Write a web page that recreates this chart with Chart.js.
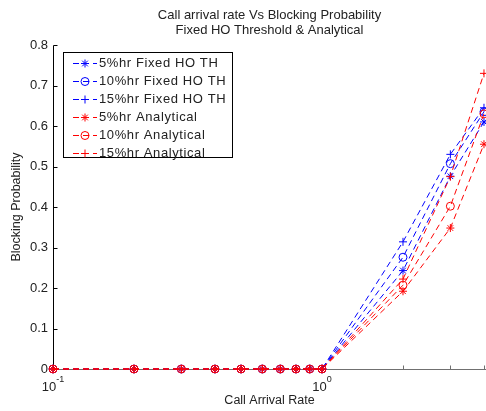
<!DOCTYPE html>
<html>
<head>
<meta charset="utf-8">
<script src="https://cdn.jsdelivr.net/npm/chart.js@4.4.1/dist/chart.umd.min.js"></script>
<style>
    html, body { margin: 0; padding: 0; background: #fff; }
</style>
</head>
<body>
<canvas id="blockingChart" width="486" height="411"></canvas>
<script>
// Call arrival rates on the x axis (log scale)
const arrivalRates = [0.1, 0.2, 0.3, 0.4, 0.5, 0.6, 0.7, 0.8, 0.9, 1, 2, 3, 4];

// Blocking probability, fixed HO threshold (simulation)
const fixed5 = [0, 0, 0, 0, 0, 0, 0, 0, 0, 0, 0.243, 0.476, 0.61];
const fixed10 = [0, 0, 0, 0, 0, 0, 0, 0, 0, 0, 0.276, 0.507, 0.635];
const fixed15 = [0, 0, 0, 0, 0, 0, 0, 0, 0, 0, 0.314, 0.53, 0.645];

// Blocking probability, analytical
const analytical5 = [0, 0, 0, 0, 0, 0, 0, 0, 0, 0, 0.192, 0.348, 0.555];
const analytical10 = [0, 0, 0, 0, 0, 0, 0, 0, 0, 0, 0.207, 0.402, 0.63];
const analytical15 = [0, 0, 0, 0, 0, 0, 0, 0, 0, 0, 0.222, 0.475, 0.73];

const seriesLabels = ['5%hr Fixed HO TH', '10%hr Fixed HO TH', '15%hr Fixed HO TH',
    '5%hr Analytical', '10%hr Analytical', '15%hr Analytical'];

// Axis ticks
const yTickValues = [0, 0.1, 0.2, 0.3, 0.4, 0.5, 0.6, 0.7, 0.8];
const xTickValues = [0.1, 1];
const xTickExponents = ['-1', '0'];
const xMinorTicks = [0.2, 0.3, 0.4, 0.5, 0.6, 0.7, 0.8, 0.9, 2, 3, 4];

const fontFamily = "'Liberation Sans', Arial, sans-serif";
const blue = '#0000ff';
const red = '#ff0000';

function makeSeries(label, values, color, marker, order) {
    return {
        label: label,
        data: arrivalRates.map((r, i) => ({ x: r, y: values[i] })),
        borderColor: color,
        backgroundColor: 'rgba(0,0,0,0)',
        borderWidth: 1,
        borderDash: [6, 4],
        pointStyle: marker,
        pointRadius: 4,
        pointBorderWidth: 1,
        pointBorderColor: color,
        pointBackgroundColor: 'rgba(0,0,0,0)',
        tension: 0,
        clip: false,
        order: order
    };
}

// Draw axes, ticks, labels in the old MATLAB figure style
const matlabAxes = {
    id: 'matlabAxes',
    beforeDatasetsDraw(chart) {
        const { ctx, chartArea: a, scales: { x, y } } = chart;
        const left = Math.round(a.left) + 0.5;
        const bottom = Math.round(a.bottom) + 0.5;
        ctx.save();
        ctx.lineWidth = 1;

        // x axis (grey) with inward minor ticks
        ctx.strokeStyle = '#707070';
        ctx.beginPath();
        ctx.moveTo(left, bottom);
        ctx.lineTo(a.right, bottom);
        xMinorTicks.concat(xTickValues).forEach(v => {
            const px = Math.round(x.getPixelForValue(v)) + 0.5;
            ctx.moveTo(px, bottom);
            ctx.lineTo(px, bottom - 4);
        });
        ctx.stroke();

        // y axis (black) with inward ticks
        ctx.strokeStyle = '#000';
        ctx.beginPath();
        ctx.moveTo(left, Math.round(a.top) + 0.5);
        ctx.lineTo(left, bottom);
        yTickValues.forEach(v => {
            const py = Math.round(y.getPixelForValue(v)) + 0.5;
            ctx.moveTo(left, py);
            ctx.lineTo(left + 4, py);
        });
        ctx.stroke();
        ctx.restore();
    },
    afterDraw(chart) {
        const { ctx, chartArea: a, scales: { x, y } } = chart;
        const cx = (a.left + a.right) / 2;
        ctx.save();
        ctx.fillStyle = '#222';
        ctx.textBaseline = 'middle';

        // y tick labels
        ctx.font = '13px ' + fontFamily;
        ctx.textAlign = 'right';
        yTickValues.forEach(v => {
            ctx.fillText(v === 0 ? '0' : v.toFixed(1), a.left - 5, y.getPixelForValue(v));
        });

        // x tick labels: 10 with a raised exponent
        xTickValues.forEach((v, i) => {
            const px = x.getPixelForValue(v);
            ctx.font = '13px ' + fontFamily;
            const baseW = ctx.measureText('10').width;
            ctx.font = '9px ' + fontFamily;
            const expW = ctx.measureText(xTickExponents[i]).width;
            const start = px - (baseW + expW) / 2;
            ctx.textAlign = 'left';
            ctx.font = '13px ' + fontFamily;
            ctx.fillText('10', start, 387);
            ctx.font = '9px ' + fontFamily;
            ctx.fillText(xTickExponents[i], start + baseW, 380);
        });

        // axis titles
        ctx.textAlign = 'center';
        ctx.font = '12.5px ' + fontFamily;
        ctx.fillText('Call Arrival Rate', cx, 401);
        ctx.save();
        ctx.translate(17, (a.top + a.bottom) / 2);
        ctx.rotate(-Math.PI / 2);
        ctx.fillText('Blocking Probability', 0, 0);
        ctx.restore();

        // two-line title
        ctx.font = '13px ' + fontFamily;
        ctx.fillText('Call arrival rate Vs Blocking Probability', cx, 15);
        ctx.fillText('Fixed HO Threshold & Analytical', cx, 30.5);

        // legend box
        const boxX = 63.5, boxY = 52.5, boxW = 169, boxH = 105;
        ctx.fillStyle = '#fff';
        ctx.fillRect(boxX, boxY, boxW, boxH);
        ctx.strokeStyle = '#000';
        ctx.lineWidth = 1;
        ctx.strokeRect(boxX, boxY, boxW, boxH);

        chart.data.datasets.forEach((ds, i) => {
            const rowY = 63 + i * 18;
            ctx.strokeStyle = ds.borderColor;
            ctx.lineWidth = 1;
            ctx.setLineDash([6, 4]);
            ctx.beginPath();
            ctx.moveTo(73, rowY + 0.5);
            ctx.lineTo(97, rowY + 0.5);
            ctx.stroke();
            ctx.setLineDash([]);
            ctx.fillStyle = 'rgba(0,0,0,0)';
            Chart.helpers.drawPoint(ctx, {
                pointStyle: ds.pointStyle, radius: 4, borderWidth: 1, rotation: 0
            }, 85, rowY + 0.5);

            ctx.fillStyle = '#222';
            ctx.font = '13px ' + fontFamily;
            ctx.letterSpacing = '0.6px';
            ctx.textAlign = 'left';
            ctx.fillText(ds.label, 99, rowY + 0.5);
            ctx.letterSpacing = '0px';
        });
        ctx.restore();
    }
};

const ctx = document.getElementById('blockingChart').getContext('2d');
const blockingChart = new Chart(ctx, {
    type: 'line',
    data: {
        datasets: [
            makeSeries(seriesLabels[0], fixed5, blue, 'star', 2),
            makeSeries(seriesLabels[1], fixed10, blue, 'circle', 2),
            makeSeries(seriesLabels[2], fixed15, blue, 'cross', 2),
            makeSeries(seriesLabels[3], analytical5, red, 'star', 1),
            makeSeries(seriesLabels[4], analytical10, red, 'circle', 1),
            makeSeries(seriesLabels[5], analytical15, red, 'cross', 1)
        ]
    },
    options: {
        responsive: false,
        animation: false,
        devicePixelRatio: 1,
        layout: {
            autoPadding: false,
            padding: { left: 0, top: 45, right: 0, bottom: 0 }
        },
        scales: {
            x: {
                type: 'logarithmic',
                min: 0.1,
                max: 4.07,
                grid: { display: false },
                border: { display: false },
                ticks: { display: false },
                afterFit: s => { s.height = 42; }
            },
            y: {
                type: 'linear',
                min: 0,
                max: 0.8,
                grid: { display: false },
                border: { display: false },
                ticks: { display: false, stepSize: 0.1 },
                afterFit: s => { s.width = 53; }
            }
        },
        plugins: {
            legend: { display: false },
            title: { display: false },
            tooltip: { enabled: false }
        }
    },
    plugins: [matlabAxes]
});
</script>
</body>
</html>
